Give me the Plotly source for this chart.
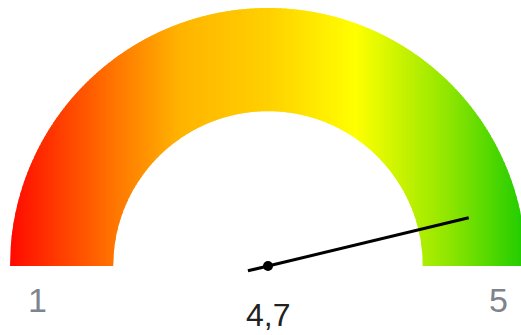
import numpy as np
import plotly.graph_objects as go

# ---- data ----
gauge_min = 1
gauge_max = 5
gauge_value = 4.7
min_label = "1"
max_label = "5"
value_label = "4,7"

# gradient colour stops (position along the gauge width, colour)
stop_pos = [0.0, 0.2, 0.33, 0.5, 0.67, 0.85, 1.0]
stop_col = ["#ff0a00", "#ff7400", "#ffb400", "#ffd000", "#ffff00", "#8fe600", "#1ecc00"]

# ---- geometry / style ----
R_OUT = 1.0
R_IN = 0.60
W, H = 521, 335
cx_px, cy_px, scale = 268, 266, 258.0
x_range = [-cx_px / scale, (W - cx_px) / scale]
y_range = [-(H - cy_px) / scale, cy_px / scale]


def hex2rgb(h):
    h = h.lstrip("#")
    return [int(h[i:i + 2], 16) for i in (0, 2, 4)]


stop_rgb = np.array([hex2rgb(c) for c in stop_col], dtype=float)


def color_at(t):
    rgb = [np.interp(t, stop_pos, stop_rgb[:, k]) for k in range(3)]
    return "rgb(%d,%d,%d)" % tuple(int(round(v)) for v in rgb)


def bottom(x):
    return np.sqrt(max(R_IN ** 2 - x ** 2, 0.0)) if abs(x) < R_IN else 0.0


def top(x):
    return np.sqrt(max(R_OUT ** 2 - x ** 2, 0.0))


shapes = []
N = 300
edges = np.linspace(-R_OUT, R_OUT, N + 1)
dw = edges[1] - edges[0]
for i in range(N):
    x0 = edges[i]
    x1 = min(edges[i + 1] + 0.6 * dw, R_OUT)
    xs = list(np.linspace(x0, x1, 5))
    for b in (-R_IN, R_IN):
        if x0 < b < x1:
            xs.append(b)
    xs = sorted(xs)
    pts_top = [(x, top(x)) for x in xs]
    pts_bot = [(x, bottom(x)) for x in reversed(xs)]
    pts = pts_top + pts_bot
    path = "M " + " L ".join("%.5f,%.5f" % p for p in pts) + " Z"
    t = (0.5 * (edges[i] + edges[i + 1]) + R_OUT) / (2 * R_OUT)
    shapes.append(dict(type="path", path=path, xref="x", yref="y",
                       fillcolor=color_at(t), line=dict(width=0), layer="below"))

# needle
frac = (gauge_value - gauge_min) / (gauge_max - gauge_min)
theta = np.pi * (1 - frac)
tip = 0.80
tail = 0.08
needle_x = [-tail * np.cos(theta), tip * np.cos(theta)]
needle_y = [-tail * np.sin(theta), tip * np.sin(theta)]

fig = go.Figure()
fig.add_trace(go.Scatter(x=needle_x, y=needle_y, mode="lines",
                         line=dict(color="black", width=3), hoverinfo="skip"))
fig.add_trace(go.Scatter(x=[0], y=[0], mode="markers",
                         marker=dict(color="black", size=10), hoverinfo="skip"))

lab_font = dict(family="Liberation Sans, Arial, sans-serif", size=34, color="#7d848c")
annotations = [
    dict(x=-0.895, y=-0.132, text=min_label, showarrow=False, font=lab_font,
         xanchor="center", yanchor="middle"),
    dict(x=0.895, y=-0.132, text=max_label, showarrow=False, font=lab_font,
         xanchor="center", yanchor="middle"),
    dict(x=0.0, y=-0.19, text=value_label, showarrow=False,
         font=dict(family="Liberation Sans, Arial, sans-serif", size=32, color="#222222"),
         xanchor="center", yanchor="middle"),
]

fig.update_layout(
    width=W, height=H,
    margin=dict(l=0, r=0, t=0, b=0),
    paper_bgcolor="white", plot_bgcolor="white",
    showlegend=False,
    shapes=shapes,
    annotations=annotations,
    xaxis=dict(range=x_range, visible=False, fixedrange=True),
    yaxis=dict(range=y_range, visible=False, fixedrange=True),
)

fig.write_html("out.html", config={"displayModeBar": False},
               post_script="document.body.style.margin='0';document.body.style.padding='0';document.body.style.overflow='hidden';")
